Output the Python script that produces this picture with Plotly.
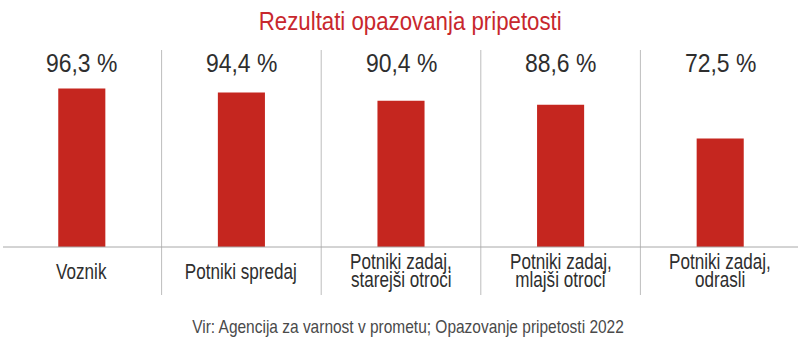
import json
import plotly.graph_objects as go

# ---- data ----
title_text = "Rezultati opazovanja pripetosti"
categories = ["Voznik", "Potniki spredaj", "Potniki zadaj,<br>starejši otroci",
              "Potniki zadaj,<br>mlajši otroci", "Potniki zadaj,<br>odrasli"]
values = [96.3, 94.4, 90.4, 88.6, 72.5]
value_labels = ["96,3 %", "94,4 %", "90,4 %", "88,6 %", "72,5 %"]
source_text = "Vir: Agencija za varnost v prometu; Opazovanje pripetosti 2022"

# ---- style ----
FONT = "Liberation Sans, Arial, Helvetica, sans-serif"
RED = "#C5261F"
TITLE_RED = "#C8272D"
TEXT = "#2e2e2e"
GREY = "#BDBDBD"

W, H = 800, 343
M_T, M_B, M_L, M_R = 50, 96, 2, 0
PH = H - M_T - M_B


def py(pix):
    """pixel row -> paper y"""
    return (H - M_B - pix) / PH


def px(pix):
    return (pix - M_L) / (W - M_L - M_R)


xs = list(range(len(categories)))

fig = go.Figure(go.Bar(
    x=xs, y=values, width=0.295,
    marker=dict(color=RED, line=dict(width=0)),
    hoverinfo="skip",
))

ann = []
squeeze = []  # horizontal condensing factor per annotation (condensed typeface look)
# title
ann.append(dict(text=title_text, x=px(410), y=py(21), xref="paper", yref="paper",
                xanchor="center", yanchor="middle", showarrow=False,
                font=dict(family=FONT, size=25, color=TITLE_RED)))
squeeze.append(0.89)
# value labels
for i, lab in zip(xs, value_labels):
    ann.append(dict(text=lab, x=i, y=py(62.5), xref="x", yref="paper",
                    xanchor="center", yanchor="middle", showarrow=False,
                    font=dict(family=FONT, size=25.5, color=TEXT)))
    squeeze.append(0.90)
# category labels (one annotation per line for tight leading)
for i, cat in zip(xs, categories):
    lines = cat.split("<br>")
    rows = [271.7] if len(lines) == 1 else [261.7, 279.7]
    for line, r in zip(lines, rows):
        ann.append(dict(text=line, x=i, y=py(r), xref="x", yref="paper",
                        xanchor="center", yanchor="middle", showarrow=False,
                        font=dict(family=FONT, size=22.5, color=TEXT)))
        squeeze.append(0.76)
# source
ann.append(dict(text=source_text, x=px(408), y=py(327), xref="paper", yref="paper",
                xanchor="center", yanchor="middle", showarrow=False,
                font=dict(family=FONT, size=17.5, color="#4a4a4a")))
squeeze.append(0.885)

shapes = []
for k in range(len(categories) - 1):
    shapes.append(dict(type="line", xref="x", yref="paper",
                       x0=k + 0.5, x1=k + 0.5, y0=py(295), y1=py(50),
                       line=dict(color=GREY, width=1)))
shapes.append(dict(type="line", xref="paper", yref="paper",
                   x0=px(3), x1=px(798), y0=0, y1=0,
                   line=dict(color="#A8A8A8", width=1)))

fig.update_layout(
    width=W, height=H,
    margin=dict(t=M_T, b=M_B, l=M_L, r=M_R, pad=0),
    paper_bgcolor="white", plot_bgcolor="white",
    showlegend=False,
    xaxis=dict(range=[-0.5, len(categories) - 0.5], showgrid=False, zeroline=False,
               showticklabels=False, ticks="", showline=False, fixedrange=True),
    yaxis=dict(range=[21.1, 114.5], showgrid=False, zeroline=False,
               showticklabels=False, ticks="", showline=False, fixedrange=True),
    annotations=ann,
    shapes=shapes,
)

post = """
(function(){
  var scales = %s;
  var gd = document.getElementById('{plot_id}');
  function squeeze(){
    document.querySelectorAll('g.annotation').forEach(function(g){
      var i = +g.getAttribute('data-index');
      var s = scales[i];
      var t = g.querySelector('text.annotation-text');
      if (t && s) {
        t.style.transformBox = 'fill-box';
        t.style.transformOrigin = 'center';
        t.style.transform = 'scaleX(' + s + ')';
      }
    });
  }
  squeeze();
  if (gd && gd.on) gd.on('plotly_afterplot', squeeze);
})();
""" % json.dumps(squeeze)

fig.write_html("out.html", config={"displayModeBar": False}, post_script=post)
